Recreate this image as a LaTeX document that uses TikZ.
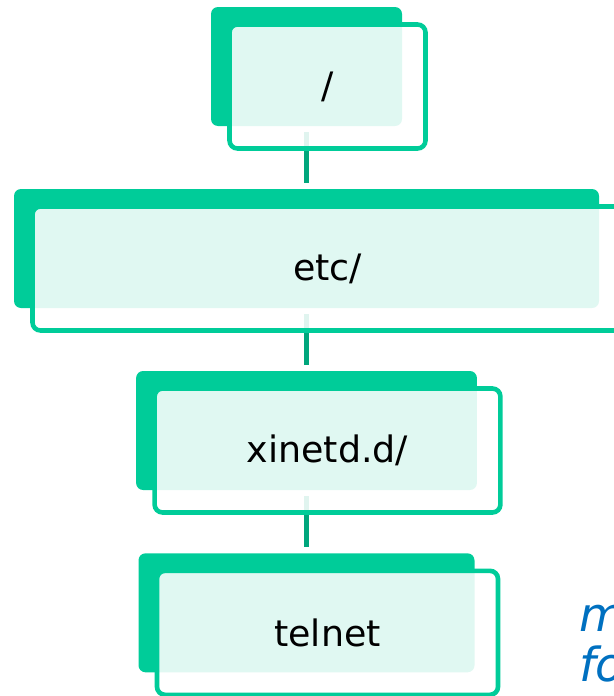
\documentclass[tikz,border=0pt]{standalone}
\usepackage{fontspec}
\setmainfont{DejaVu Sans}

\definecolor{verde}{RGB}{0,204,153}
\definecolor{verdescuro}{RGB}{0,166,124}
\definecolor{blunota}{RGB}{0,112,192}

\tikzset{
    pieno/.style={rectangle, rounded corners=3.5pt, fill=verde,
        minimum height=59.5pt, inner sep=0pt},
    cornice/.style={rectangle, rounded corners=4pt, draw=verde, line width=2.3pt,
        fill=white, fill opacity=0.88, text opacity=1,
        minimum height=62pt, inner sep=0pt, font=\fontsize{18.2}{21}\selectfont},
    collegamento/.style={verdescuro, line width=2.5pt},
    nota/.style={text=blunota, inner sep=0pt, anchor=base west,
        font=\fontsize{23.5}{25}\selectfont\itshape},
}

\begin{document}
\begin{tikzpicture}[x=0.5pt, y=-0.5pt]

    \useasboundingbox (0,0) rectangle (614,696);

    % -- Rettangoli pieni dietro ogni cartella --
    \node[pieno, minimum width=95.5pt]  (radice) at (306.5,66.5)  {};
    \node[pieno, minimum width=292.5pt] (etc)    at (306.5,248.5) {};
    \node[pieno, minimum width=170.4pt] (xinetd) at (306.5,430.5) {};
    \node[pieno, minimum width=168pt]   (telnet) at (306.5,612.8) {};

    % -- Collegamenti verticali (passano sotto le cornici) --
    \foreach \a/\b in {radice/etc, etc/xinetd, xinetd/telnet}
        \draw[collegamento] ([yshift=-3pt]\a.south) -- ([yshift=3pt]\b.north);

    % -- Cornici semitrasparenti con i nomi --
    \node[cornice, minimum width=98pt]    (radiceC) at ([shift={(21,20)}]radice.center) {/};
    \node[cornice, minimum width=295pt]   (etcC)    at ([shift={(21,20)}]etc.center)    {etc/};
    \node[cornice, minimum width=172.9pt] (xinetdC) at ([shift={(21,20)}]xinetd.center) {xinetd.d/};
    \node[cornice, minimum width=170.5pt] (telnetC) at ([shift={(21,20)}]telnet.center) {telnet};

    % Nota a destra, tagliata dal bordo
    \node[nota] (nota1) at (579,631.7) {m};
    \node[nota] (nota2) at (579,681.7) {fo};

\end{tikzpicture}
\end{document}
